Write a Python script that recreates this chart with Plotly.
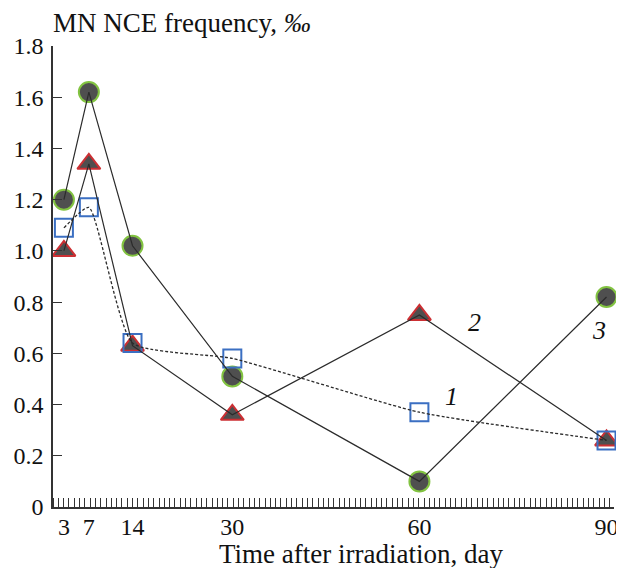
import plotly.graph_objects as go

days = [3, 7, 14, 30, 60, 90]
series1 = [1.09, 1.17, 0.64, 0.58, 0.37, 0.26]   # squares, dotted
series2 = [1.00, 1.34, 0.63, 0.36, 0.75, 0.26]   # triangles
series3 = [1.20, 1.62, 1.02, 0.51, 0.10, 0.82]   # circles
y_ticks = [0, 0.2, 0.4, 0.6, 0.8, 1.0, 1.2, 1.4, 1.6, 1.8]
y_ticktext = ["0", "0.2", "0.4", "0.6", "0.8", "1.0", "1.2", "1.4", "1.6", "1.8"]
x_ticks = [3, 7, 14, 30, 60, 90]
labels = ["1", "2", "3"]
label_x = [65.1, 68.9, 88.8]
label_y = [0.43, 0.72, 0.69]

FONT = "Liberation Serif"
LINE = "#2b2b2b"

fig = go.Figure()

# markers (drawn first so the lines lie on top)
fig.add_trace(go.Scatter(x=days, y=series3, mode="markers", cliponaxis=False,
                         marker=dict(symbol="circle", size=20, color="#4f4f4f",
                                     line=dict(color="#82c341", width=2))))
fig.add_trace(go.Scatter(x=days, y=series2, mode="markers", cliponaxis=False,
                         marker=dict(symbol="triangle-up", size=20, color="#4f4f4f",
                                     line=dict(color="#cc2f33", width=2))))
fig.add_trace(go.Scatter(x=days, y=series1, mode="markers", cliponaxis=False,
                         marker=dict(symbol="square-open", size=18, color="#3b6fc2",
                                     line=dict(color="#3b6fc2", width=2))))

# lines
fig.add_trace(go.Scatter(x=days, y=series1, mode="lines", cliponaxis=False,
                         line=dict(color=LINE, width=1.3, dash="3px,2px",
                                   shape="spline", smoothing=0.5)))
fig.add_trace(go.Scatter(x=days, y=series2, mode="lines", cliponaxis=False,
                         line=dict(color=LINE, width=1.2)))
fig.add_trace(go.Scatter(x=days, y=series3, mode="lines", cliponaxis=False,
                         line=dict(color=LINE, width=1.2)))

for t, lx, ly in zip(labels, label_x, label_y):
    fig.add_annotation(x=lx, y=ly, text=f"<i>{t}</i>", showarrow=False,
                       font=dict(family=FONT, size=26, color="#111"))

fig.add_annotation(xref="paper", yref="paper", x=0, y=1, xanchor="left", yanchor="bottom",
                   xshift=-2, yshift=6, text="MN NCE frequency, <i>‰</i>", showarrow=False,
                   font=dict(family=FONT, size=27, color="#111"))

fig.add_annotation(xref="paper", yref="paper", x=0.549, y=0, xanchor="center", yanchor="middle",
                   yshift=-47, text="Time after irradiation, day", showarrow=False,
                   font=dict(family=FONT, size=27, color="#111"))

# page body has an 8px margin, so the figure is sized to end at the window edge
fig.update_layout(
    width=616, height=560,
    margin=dict(l=45, r=10, t=38, b=61),
    paper_bgcolor="white", plot_bgcolor="white",
    showlegend=False,
    font=dict(family=FONT, size=24, color="#111"),
    xaxis=dict(range=[1.25, 91.2], tickmode="array", tickvals=x_ticks,
               ticktext=[str(v) for v in x_ticks], ticks="", showgrid=False,
               automargin=False, ticklabelstandoff=-3,
               zeroline=False, showline=True, linecolor="#333", linewidth=1.5,
               tickfont=dict(family=FONT, size=24),
               minor=dict(ticks="inside", ticklen=9, tickcolor="#333", tickwidth=1,
                          tick0=1.25, dtick=0.85, showgrid=False)),
    yaxis=dict(range=[0, 1.8], tickmode="array", tickvals=y_ticks, ticktext=y_ticktext,
               ticks="inside", ticklen=9, tickcolor="#333", tickwidth=1.2,
               automargin=False, ticklabelstandoff=3,
               showgrid=False, zeroline=False, showline=True, linecolor="#333",
               linewidth=1.5, tickfont=dict(family=FONT, size=24)),
)

fig.write_html("out.html")
